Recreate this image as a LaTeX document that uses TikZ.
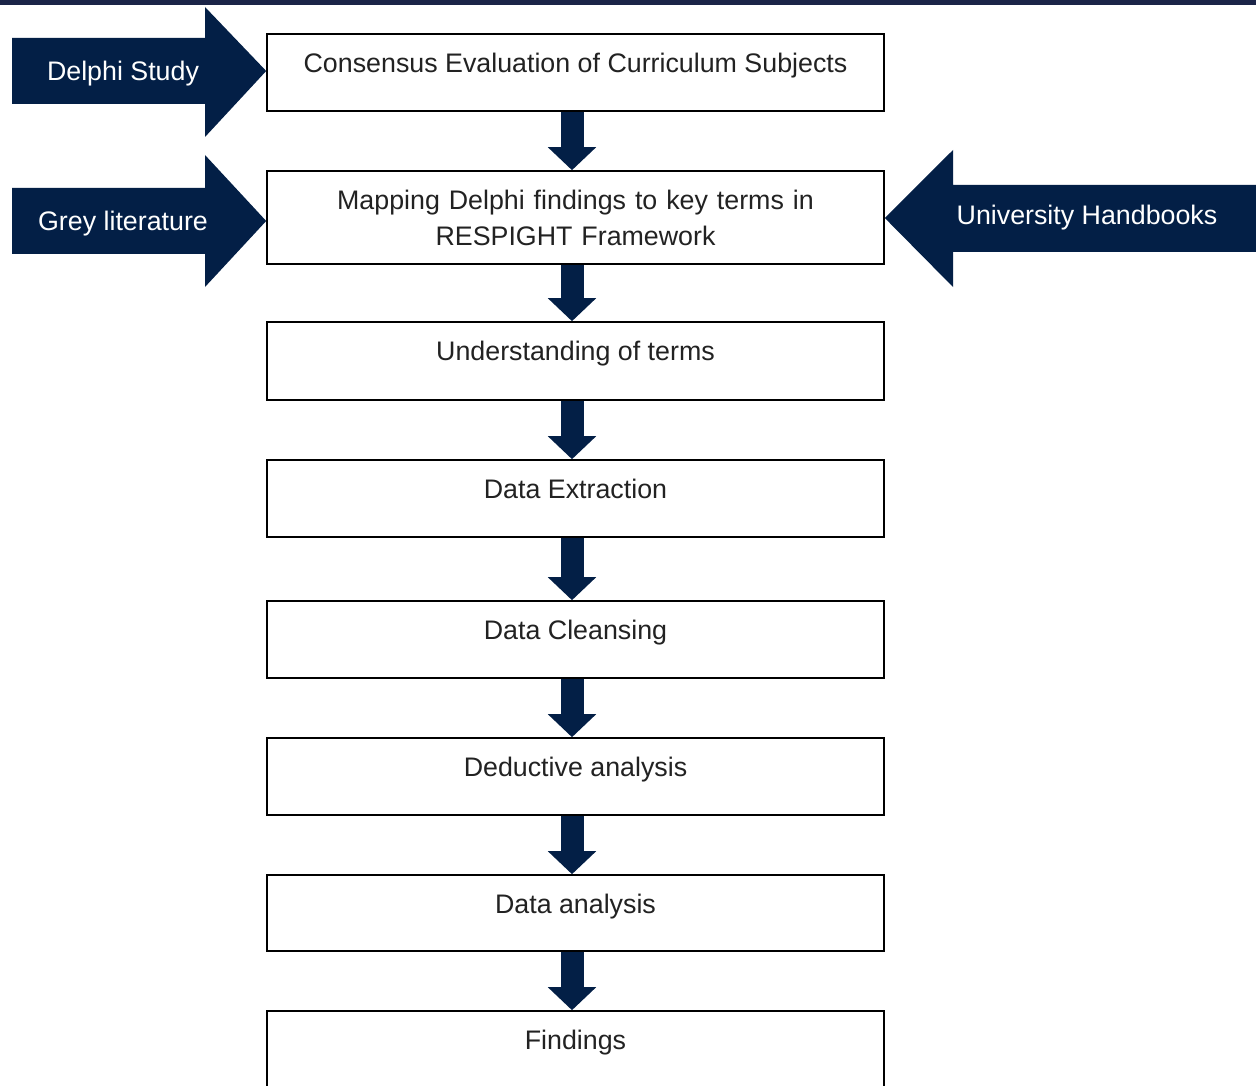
\documentclass[tikz,border=0pt]{standalone}
\usepackage{fontspec}
\setmainfont{Liberation Sans}
\usetikzlibrary{arrows.meta}
\definecolor{navy}{RGB}{3,31,70}
\definecolor{band}{RGB}{27,36,72}
\definecolor{ink}{RGB}{34,34,34}
\begin{document}
\begin{tikzpicture}[x=1pt,y=-1pt,
  box/.style={draw=black, line width=1.6pt, fill=white, minimum width=617pt, inner sep=0pt},
  lbl/.style={font=\fontsize{26.8}{36}\selectfont, text=ink, anchor=base, inner sep=0pt},
  side/.style={font=\fontsize{26.8}{36}\selectfont, text=white, anchor=base, inner sep=0pt},
  down/.style={draw=navy, line width=23pt, -{Triangle[length=23pt,width=47pt]}}
]
\useasboundingbox (0,0) rectangle (1256,1086);
\clip (0,0) rectangle (1256,1086);
\fill[white] (0,0) rectangle (1256,1086);
\fill[band] (0,0) rectangle (1256,5);

% boxes
\node[box, minimum height=77pt] (b1) at (575.5,72.5) {};
\node[box, minimum height=93pt] (b2) at (575.5,217.5) {};
\node[box, minimum height=78pt] (b3) at (575.5,361) {};
\node[box, minimum height=77pt] (b4) at (575.5,498.5) {};
\node[box, minimum height=77pt] (b5) at (575.5,639.5) {};
\node[box, minimum height=77pt] (b6) at (575.5,776.5) {};
\node[box, minimum height=76pt] (b7) at (575.5,913) {};
\node[box, minimum height=90pt] (b8) at (575.5,1056) {};

% box texts
\node[lbl] (t1) at ([yshift=-39.5pt]b1.north) {Consensus Evaluation of Curriculum Subjects};
\node[lbl, text width=610pt, align=center] (t2) at ([yshift=-39.5pt]b2.north) {Mapping Delphi findings to key terms in\\RESPIGHT Framework};
\node[lbl] (t3) at ([yshift=-39.5pt]b3.north) {Understanding of terms};
\node[lbl] (t4) at ([yshift=-39.5pt]b4.north) {Data Extraction};
\node[lbl] (t5) at ([yshift=-39.5pt]b5.north) {Data Cleansing};
\node[lbl] (t6) at ([yshift=-39.5pt]b6.north) {Deductive analysis};
\node[lbl] (t7) at ([yshift=-39.5pt]b7.north) {Data analysis};
\node[lbl] (t8) at ([yshift=-39.5pt]b8.north) {Findings};

% down arrows
\foreach \a/\b in {b1/b2,b2/b3,b3/b4,b4/b5,b5/b6,b6/b7,b7/b8}
  \draw[down] ([xshift=-3.5pt]\a.south) -- ([xshift=-3.5pt]\b.north);

% side block arrows
\fill[navy] (12,38) -- (205,38) -- (205,7) -- ([yshift=1.5pt]b1.west) -- (205,137) -- (205,104) -- (12,104) -- cycle;
\fill[navy] (12,188) -- (205,188) -- (205,155) -- ([yshift=-3.5pt]b2.west) -- (205,287) -- (205,254) -- (12,254) -- cycle;
\fill[navy] (1256,185) -- (953,185) -- (953,150) -- ([yshift=-0.5pt]b2.east) -- (953,287) -- (953,252) -- (1256,252) -- cycle;

\node[side] (s1) at (123,80.5) {Delphi Study};
\node[side] (s2) at (123,230.5) {Grey literature};
\node[side] (s3) at (1087,224.5) {University Handbooks};
\end{tikzpicture}
\end{document}
